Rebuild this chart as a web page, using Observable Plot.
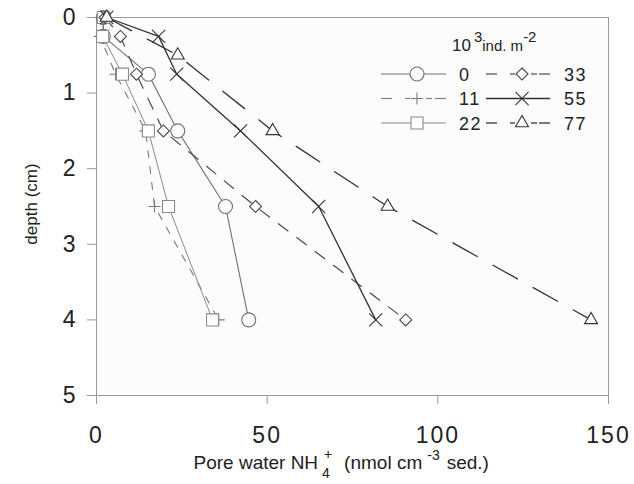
<!DOCTYPE html>
<html><head><meta charset="utf-8">
<script src="https://cdn.jsdelivr.net/npm/d3@7"></script>
<script src="https://cdn.jsdelivr.net/npm/@observablehq/plot@0.6"></script>
<style>body{margin:0;background:#fff;font-family:"Liberation Sans",Arial,sans-serif}</style>
</head><body><div id="chart"></div>
<script>
// depth (cm) of each sample
const depths = [0, 0.25, 0.75, 1.5, 2.5, 4];
const depthsTri = [0, 0.5, 1.5, 2.5, 4];
// pore water NH4+ (nmol cm-3 sed.) per density treatment (10^3 ind. m-2)
const densities = ["0", "11", "22", "33", "55", "77"];
const nh4_0  = [2.0, 2.0, 15.2, 23.8, 37.8, 44.6];
const nh4_11 = [1.5, 1.0, 5.6, 14.4, 17.0, 35.8];
const nh4_22 = [2.0, 1.8, 7.6, 15.2, 21.1, 34.0];
const nh4_33 = [2.5, 7.0, 11.7, 19.6, 46.6, 90.6];
const nh4_55 = [3.0, 18.2, 23.5, 42.2, 65.1, 81.8];
const nh4_77 = [3.0, 23.8, 51.6, 85.3, 144.9];
const xTicks = [0, 50, 100, 150];
const yTicks = [0, 1, 2, 3, 4, 5];

const styles = [
  {symbol: "circle",   r: 7.0, stroke: "#707070", dash: null,    width: 1.1},
  {symbol: "plus",     r: 4.0, stroke: "#7a7a7a", dash: "7,9",   width: 1.1},
  {symbol: "square",   r: 6.8, stroke: "#8a8a8a", dash: null,    width: 1.0},
  {symbol: "diamond2", r: 5.4, stroke: "#4a4a4a", dash: "12,11", width: 1.2},
  {symbol: "times",    r: 6.0, stroke: "#333333", dash: null,    width: 1.3},
  {symbol: "triangle2",r: 6.2, stroke: "#333333", dash: "28,18", width: 1.3}
];
const values = [nh4_0, nh4_11, nh4_22, nh4_33, nh4_55, nh4_77];
const depthSets = [depths, depths, depths, depths, depths, depthsTri];

const series = densities.map((d, k) => ({
  key: d, ...styles[k],
  data: values[k].map((v, i) => ({density: d, nh4: v, depth: depthSets[k][i]}))
}));

const font = "'Liberation Sans', Arial, sans-serif";
const plot = Plot.plot({
  width: 634, height: 484,
  marginLeft: 96, marginRight: 26, marginTop: 17, marginBottom: 89,
  style: {fontFamily: font, background: "white", color: "#222"},
  x: {domain: [0, 150]},
  y: {domain: [0, 5], reverse: true},
  marks: [
    Plot.frame({fill: "#fcfcfc", stroke: "#9a9a9a"}),
    Plot.axisX({ticks: xTicks, tickFormat: d3.format("d"), tickSize: 9, tickPadding: 22, fontSize: 23, label: null, stroke: "#999", fill: "#222", className: "xax"}),
    Plot.axisY({ticks: yTicks, tickFormat: d3.format("d"), tickSize: 9, tickPadding: 12, fontSize: 23, label: null, stroke: "#999", fill: "#222"}),
    ...series.map(s => Plot.line(s.data, {x: "nh4", y: "depth", stroke: s.stroke, strokeWidth: s.width, strokeDasharray: s.dash})),
    ...series.map(s => Plot.dot(s.data, {x: "nh4", y: "depth", symbol: s.symbol, r: s.r, stroke: s.stroke, strokeWidth: 1.1, fill: "white"})),
    Plot.text(["Pore water NH4+ (nmol cm-3 sed.)"], {frameAnchor: "bottom-left", textAnchor: "start", dx: 97, dy: 73, fontSize: 19, fill: "#222", className: "xlab"})
  ]
});
document.getElementById("chart").appendChild(plot);

const svg = d3.select(plot);
svg.selectAll(".xax text").attr("letter-spacing", "2px");
// x-axis title with sub/superscripts
svg.select(".xlab text").html(
  '<tspan>Pore water NH</tspan><tspan dx="4" dy="9" font-size="14">4</tspan><tspan dx="-6" dy="-19" font-size="14">+</tspan>' +
  '<tspan dy="10" dx="12">(nmol cm</tspan><tspan dx="5" dy="-9" font-size="14">-3</tspan><tspan dx="7" dy="9">sed.)</tspan>'
);
// y-axis title
svg.append("text").attr("transform", "translate(37,204) rotate(-90)")
  .attr("text-anchor", "middle").attr("font-family", font).attr("font-size", 17)
  .attr("fill", "#222").text("depth (cm)");

// legend
const symMap = {circle: d3.symbolCircle, plus: d3.symbolPlus, square: d3.symbolSquare,
  diamond2: d3.symbolDiamond2, times: d3.symbolTimes, triangle2: d3.symbolTriangle2};
const lg = svg.append("g").attr("font-family", font).attr("fill", "#222").attr("text-anchor", "start");
const title = lg.append("text").attr("x", 452).attr("y", 51).attr("font-size", 17);
title.html('<tspan>10</tspan><tspan dx="3" dy="-9" font-size="15">3</tspan><tspan dy="9" font-size="15">ind. m</tspan><tspan dy="-9" font-size="15">-2</tspan>');
const pos = [[0, 0], [0, 1], [0, 2], [1, 0], [1, 1], [1, 2]];
series.forEach((s, k) => {
  const [c, r] = pos[k];
  const x0 = c ? 486 : 381, x1 = c ? 550 : 446, mx = c ? 522 : 417, lx = c ? 564 : 459;
  const cy = 74 + r * 24.5;
  if (s.dash) {
    [[x0, x0 + 11], [mx - 12, mx - 7], [mx + 9, mx + 15], [x1 - 11, x1]].forEach(([a, b]) =>
      lg.append("line").attr("x1", a).attr("x2", b).attr("y1", cy).attr("y2", cy)
        .attr("stroke", s.stroke).attr("stroke-width", s.width));
  } else {
    lg.append("line").attr("x1", x0).attr("x2", x1).attr("y1", cy).attr("y2", cy)
      .attr("stroke", s.stroke).attr("stroke-width", s.width);
  }
  lg.append("path").attr("transform", `translate(${mx},${cy})`)
    .attr("d", d3.symbol(symMap[s.symbol], Math.PI * s.r * s.r)())
    .attr("fill", "white").attr("stroke", s.stroke).attr("stroke-width", 1.1);
  lg.append("text").attr("x", lx).attr("y", cy + 6.5).attr("font-size", 18).attr("letter-spacing", "1.5px").text(s.key);
});
</script>
</body></html>
